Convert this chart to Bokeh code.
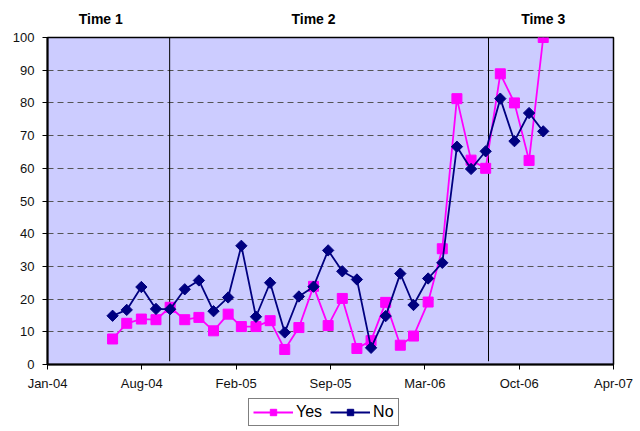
import math
import pandas as pd
from bokeh.plotting import figure
from bokeh.layouts import column
from bokeh.models import (FixedTicker, Legend, LegendItem, Range1d, DatetimeAxis,
                          ColumnDataSource)
from bokeh.embed import file_html
from bokeh.resources import INLINE

# ---- data ----
months = pd.date_range("2004-06-01", "2006-12-01", freq="MS")
yes = [7.8, 12.6, 13.9, 13.7, 17.5, 13.7, 14.4, 10.3, 15.4, 11.6, 11.6, 13.4, 4.6, 11.3, 23.9,
       11.9, 20.2, 4.9, 7.3, 19.0, 5.9, 8.7, 19.1, 35.4,
       81.3, 62.5, 60.0, 88.9, 80.0, 62.4, 100.0]
no = [14.9, 16.7, 23.7, 17.0, 16.9, 23.0, 25.7, 16.3, 20.5, 36.3, 14.6, 25.0, 9.8, 20.8, 23.8,
      34.9, 28.5, 26.0, 5.1, 14.8, 27.8, 18.2, 26.3, 31.1,
      66.6, 59.8, 65.2, 81.3, 68.3, 76.9, 71.3]
series_names = ["Yes", "No"]

axis_start = pd.Timestamp("2004-01-15")
tick_step_days = 200
tick_labels = ["Jan-04", "Aug-04", "Feb-05", "Sep-05", "Mar-06", "Oct-06", "Apr-07"]
y_ticks = list(range(0, 101, 10))

period_bounds = ["2004-09-30", "2006-08-07"]
period_labels = ["Time 1", "Time 2", "Time 3"]
period_label_dates = ["2004-05-07", "2005-08-01", "2006-12-01"]


def ms(ts):
    return pd.Timestamp(ts).value // 10**6


tick_ms = [ms(axis_start + pd.Timedelta(days=tick_step_days * i)) for i in range(len(tick_labels))]

FONT = "Liberation Sans"
YES_COLOR = "#FF00FF"
NO_COLOR = "#000080"

p = figure(frame_width=566, frame_height=327, x_axis_type="datetime", output_backend="svg",
           toolbar_location=None,
           x_range=Range1d(tick_ms[0], tick_ms[-1]), y_range=Range1d(0, 100),
           min_border_left=47, min_border_right=27, min_border_top=37, min_border_bottom=30,
           background_fill_color="#CCCCFF", border_fill_color="white")
p.outline_line_color = "black"
p.outline_line_width = 1.5

# axes
p.xaxis.ticker = FixedTicker(ticks=tick_ms)
p.xaxis.major_label_overrides = {t: lab for t, lab in zip(tick_ms, tick_labels)}
p.yaxis.ticker = FixedTicker(ticks=y_ticks)
for ax in (p.xaxis[0], p.yaxis[0]):
    ax.axis_line_width = 2
    ax.axis_line_color = "black"
    ax.major_tick_out = 5
    ax.major_tick_in = 0
    ax.major_tick_line_width = 1
    ax.major_tick_line_color = "black"
    ax.minor_tick_line_color = None
    ax.major_label_text_font = FONT
    ax.major_label_text_font_size = "13px"
    ax.major_label_text_color = "#111111"
p.yaxis.major_label_standoff = 8
p.xaxis.major_label_standoff = 6

# period labels as a label-only axis above the plot
pl_ms = [ms(d) for d in period_label_dates]
top_ax = DatetimeAxis(ticker=FixedTicker(ticks=pl_ms),
                      major_label_overrides={t: lab for t, lab in zip(pl_ms, period_labels)},
                      axis_line_color=None, major_tick_line_color=None,
                      minor_tick_line_color=None, major_label_standoff=5,
                      major_label_text_font=FONT, major_label_text_font_style="bold",
                      major_label_text_font_size="14px", major_label_text_color="black")
p.add_layout(top_ax, "above")

p.xgrid.grid_line_color = None
p.ygrid.ticker = FixedTicker(ticks=y_ticks[1:-1])
p.ygrid.grid_line_color = "#555555"
p.ygrid.grid_line_dash = "6 4"
p.ygrid.grid_line_width = 1.2

# period boundaries
bx = [ms(d) for d in period_bounds]
p.segment(x0=bx, x1=bx, y0=[1] * len(bx), y1=[100] * len(bx), line_color="black", line_width=1)

src = ColumnDataSource(dict(x=months, yes=yes, no=no))
p.line("x", "yes", source=src, line_color=YES_COLOR, line_width=1.8)
p.scatter("x", "yes", source=src, marker="square", size=10,
          fill_color=YES_COLOR, line_color=YES_COLOR)
p.line("x", "no", source=src, line_color=NO_COLOR, line_width=1.8)
p.scatter("x", "no", source=src, marker="square", angle=math.pi / 4, size=8,
          fill_color=NO_COLOR, line_color=NO_COLOR)

# legend strip below the chart (renderers hold no visible data; only their legend swatches show)
lg = figure(width=640, height=37, output_backend="svg", toolbar_location=None,
            x_range=Range1d(0, 1), y_range=Range1d(0, 1),
            x_axis_location=None, y_axis_location=None, min_border=0,
            outline_line_color=None, background_fill_color="white", border_fill_color="white")
lg.xgrid.grid_line_color = None
lg.ygrid.grid_line_color = None
blank = ColumnDataSource(dict(x=[float("nan")], y=[float("nan")]))
r1 = lg.line("x", "y", source=blank, line_color=YES_COLOR, line_width=1.8)
r2 = lg.scatter("x", "y", source=blank, marker="square", size=10,
                fill_color=YES_COLOR, line_color=YES_COLOR)
r3 = lg.line("x", "y", source=blank, line_color=NO_COLOR, line_width=1.8)
r4 = lg.scatter("x", "y", source=blank, marker="square", angle=math.pi / 4, size=8,
                fill_color=NO_COLOR, line_color=NO_COLOR)
legend = Legend(items=[LegendItem(label=series_names[0], renderers=[r1, r2]),
                       LegendItem(label=series_names[1], renderers=[r3, r4])],
                orientation="horizontal", location=(201, 5),
                label_text_font=FONT, label_text_font_size="16px", label_text_color="black",
                glyph_width=40, glyph_height=16, label_standoff=3, spacing=8,
                padding=4, margin=0, border_line_color="black", border_line_width=1,
                background_fill_color="white", background_fill_alpha=1)
lg.add_layout(legend, "center")

layout = column(p, lg, spacing=0)
open("out.html", "w").write(file_html(layout, INLINE))
